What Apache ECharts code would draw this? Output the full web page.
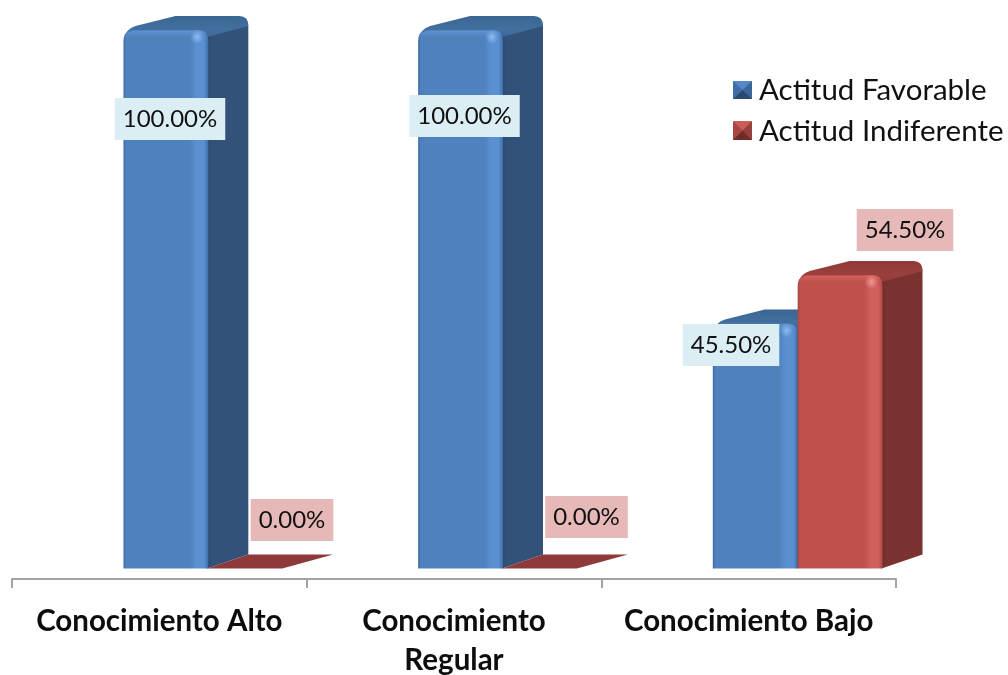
<!DOCTYPE html>
<html><head><meta charset="utf-8">
<style>html,body{margin:0;padding:0;background:#fff}#c{width:1008px;height:675px}</style>
<script src="https://cdn.jsdelivr.net/npm/echarts@6/dist/echarts.min.js"></script>
</head><body><div id="c"></div>
<script>
var categories = ['Conocimiento Alto', 'Conocimiento\nRegular', 'Conocimiento Bajo'];
var favorable = [100, 100, 45.5];
var indiferente = [0, 0, 54.5];
var seriesNames = ['Actitud Favorable', 'Actitud Indiferente'];

var FONT = 'Lato, Carlito, sans-serif';
var BAR_RATIO = 0.288, GROUP_SHIFT = 49, DX = 40, DY = 14, R = 11;

var palettes = [
  { edge:'#3b6aa3', base:'#4f81bd', light:'#5a90d2', topHi:'#5f94d4', spot:'#8fbcf0',
    side:'#325279', sideEdge:'#2a4a70', top:'#3b6694', topHi2:'#43709f', flat:'#3b6694',
    lab:'#dbeef4' },
  { edge:'#a84744', base:'#c0504d', light:'#d15f5b', topHi:'#d6625e', spot:'#f09a95',
    side:'#7a3230', sideEdge:'#6d2b29', top:'#8f3a38', topHi2:'#9a403e', flat:'#8f3a3a',
    lab:'#e6b9b8' }
];
var labelPlace = [
  [[170, 119], [464.5, 116], [731, 345]],
  [[292, 520], [586.5, 517], [905, 230]]
];

function lg(c, horizontal) {
  return { type:'linear', x:0, y:0, x2: horizontal?1:0, y2: horizontal?0:1,
    colorStops:c.map(function(s){return {offset:s[0],color:s[1]};}) };
}

function makeRender(idx) {
  var p = palettes[idx];
  return function (params, api) {
    var cat = api.value(0), val = api.value(1);
    var base = api.coord([cat, 0]), top = api.coord([cat, val]);
    var bw = api.size([1, 0])[0], w = bw * BAR_RATIO;
    var xl = base[0] + GROUP_SHIFT - w + idx * w, xr = xl + w;
    var yb = base[1], yt = top[1];
    var ch = [];
    if (val <= 0) {
      ch.push({ type:'polygon', z2:1, shape:{ points:[[xl-1,yb],[xr-11,yb],[xr,yb-3],[xr+DX,yb-DY],[xl+DX,yb-DY]] },
        style:{ fill:p.flat } });
    } else {
      ch.push({ type:'path', z2:1, shape:{ pathData:
        'M'+(xr-1)+' '+(yt+6)+' L'+(xr+DX-2)+' '+(yt-DY+3)+' L'+(xr+DX)+' '+(yt-DY+10)+
        ' L'+(xr+DX)+' '+(yb-DY)+' L'+(xr-1)+' '+yb+' Z' },
        style:{ fill: lg([[0,p.sideEdge],[0.12,p.side],[1,p.side]], true) } });
      ch.push({ type:'path', z2:2, shape:{ pathData:
        'M'+(xl+1)+' '+(yt+9)+' Q'+(xl+2)+' '+(yt-1)+' '+(xl+12)+' '+(yt-4)+
        ' L'+(xl+DX+12)+' '+(yt-DY)+' L'+(xr+DX-9)+' '+(yt-DY)+
        ' Q'+(xr+DX)+' '+(yt-DY)+' '+(xr+DX)+' '+(yt-DY+10)+' L'+(xr-1)+' '+(yt+7)+' L'+(xl+10)+' '+(yt+6)+' Z' },
        style:{ fill: lg([[0,p.top],[0.6,p.topHi2],[1,p.top]], false) } });
      ch.push({ type:'path', z2:3, shape:{ pathData:
        'M'+xl+' '+yb+' L'+xl+' '+(yt+R)+' Q'+xl+' '+yt+' '+(xl+R)+' '+yt+' L'+(xr-R)+' '+yt+
        ' Q'+xr+' '+yt+' '+xr+' '+(yt+R)+' L'+xr+' '+yb+' Z' },
        style:{ fill: lg([[0,p.edge],[0.03,p.base],[0.78,p.base],[0.86,p.light],[0.95,p.light],[1,idx?'#a84a47':'#3f6ea6']], true) } });
      ch.push({ type:'path', z2:4, shape:{ pathData:
        'M'+(xl+1)+' '+(yt+12)+' L'+(xl+1)+' '+(yt+R)+' Q'+(xl+1)+' '+(yt+1)+' '+(xl+R)+' '+(yt+1)+' L'+(xr-R)+' '+(yt+1)+
        ' Q'+(xr-1)+' '+(yt+1)+' '+(xr-1)+' '+(yt+R)+' L'+(xr-1)+' '+(yt+12)+' Z' },
        style:{ fill: { type:'linear', x:0,y:0,x2:0,y2:1, colorStops:[
          {offset:0,color:p.topHi},{offset:0.6,color:p.base+'88'},{offset:1,color:p.base+'00'}] } } });
      ch.push({ type:'circle', z2:5, shape:{ cx:xr-11, cy:yt+7, r:7 },
        style:{ fill:{ type:'radial', x:0.5,y:0.5,r:0.5, colorStops:[
          {offset:0,color:p.spot},{offset:1,color:p.spot+'00'}] } } });
    }
    var lp = labelPlace[idx][cat];
    ch.push({ type:'text', z2:20, style:{ x:lp[0], y:lp[1],
      text: api.value(1).toFixed(2) + '%', align:'center', verticalAlign:'middle',
      font:'400 24px '+FONT, fill:'#111', backgroundColor:p.lab,
      padding:[9, 8, 9, 8] } });
    return { type:'group', children:ch };
  };
}

function dataOf(arr){ return arr.map(function(v,i){ return [i,v]; }); }

/* bevelled legend swatches, drawn over the legend's own icons */
function swatch(x0, y0, x1, y1, cols) {
  var cx = (x0+x1)/2, cy = (y0+y1)/2;
  var tris = [
    [[x0,y0],[x1,y0],[cx,cy]], [[x0,y0],[x0,y1],[cx,cy]],
    [[x1,y0],[x1,y1],[cx,cy]], [[x0,y1],[x1,y1],[cx,cy]]
  ];
  return tris.map(function(t,i){
    return { type:'polygon', silent:true, z:50, shape:{points:t}, style:{fill:cols[i]} };
  });
}
var blueBevel = ['#5588c6', '#3f6ea6', '#3a6699', '#2b4a70'];
var redBevel = ['#cc5c58', '#a84744', '#98403d', '#6d2b29'];

var chart = echarts.init(document.getElementById('c'), null, { renderer:'canvas' });
chart.setOption({
  animation:false,
  backgroundColor:'#fff',
  grid:{ left:12, right:112, top:30, bottom:106.5, outerBoundsMode:'none' },
  graphic: swatch(733,81,752,99,blueBevel).concat(swatch(733,121,752,140,redBevel)),
  legend:{ show:true, left:733, top:71, padding:0, orient:'vertical', itemWidth:19, itemHeight:18, itemGap:3,
    icon:'rect', selectedMode:false,
    textStyle:{ fontFamily:FONT, fontSize:29.5, color:'#111', padding:[0,0,0,2], lineHeight:38 },
    data:[ {name:seriesNames[0], itemStyle:{color:'#4f81bd'}}, {name:seriesNames[1], itemStyle:{color:'#c0504d'}} ] },
  xAxis:{ type:'category', data:categories, offset:10.5,
    axisLine:{ show:true, onZero:false, lineStyle:{ color:'#a3a3a3', width:2 } },
    axisTick:{ show:true, alignWithLabel:false, length:9, lineStyle:{ color:'#a3a3a3', width:2 } },
    axisLabel:{ interval:0, margin:23, fontFamily:FONT, fontWeight:'bold', fontSize:29.5, lineHeight:39, color:'#0d0d0d' } },
  yAxis:{ type:'value', min:0, max:100, show:false },
  tooltip:{ show:false },
  series:[
    { name:seriesNames[0], type:'custom', z:2, clip:false, silent:true, encode:{x:0,y:1}, data:dataOf(favorable), renderItem:makeRender(0), itemStyle:{color:'#4f81bd'} },
    { name:seriesNames[1], type:'custom', z:3, clip:false, silent:true, encode:{x:0,y:1}, data:dataOf(indiferente), renderItem:makeRender(1), itemStyle:{color:'#c0504d'} }
  ]
});
</script></body></html>
